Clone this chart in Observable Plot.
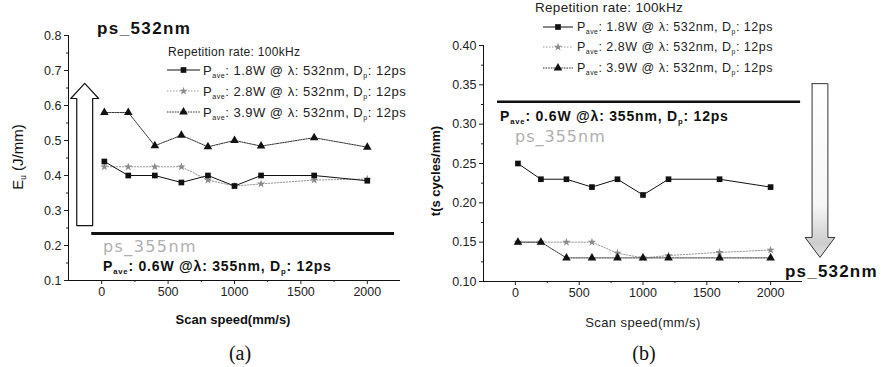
<!DOCTYPE html>
<html><head><meta charset="utf-8">
<script src="https://cdn.jsdelivr.net/npm/d3@7"></script>
<script src="https://cdn.jsdelivr.net/npm/@observablehq/plot@0.6"></script>
<style>
body{margin:0;background:#fff;}
#wrap{position:relative;width:883px;height:367px;overflow:hidden;font-family:"Liberation Sans",Arial,sans-serif;color:#1a1a1a;background:#fff;}
.t{position:absolute;white-space:nowrap;line-height:1;}
.pane{position:absolute;top:0;}
sub{font-size:0.55em;vertical-align:-0.45em;line-height:0;}
</style></head><body><div id="wrap"></div>
<script>
// ---------- data ----------
const scanSpeed = [20, 200, 400, 600, 800, 1000, 1200, 1600, 2000];
const seriesNames = ["1.8W", "2.8W", "3.9W"];
// (a) E_u (J/mm)
const energy18 = [0.44, 0.40, 0.40, 0.38, 0.40, 0.37, 0.40, 0.40, 0.385];
const energy28 = [0.425, 0.425, 0.425, 0.425, 0.387, 0.37, 0.376, 0.387, 0.39];
const energy39 = [0.58, 0.58, 0.485, 0.515, 0.482, 0.50, 0.484, 0.508, 0.481];
// (b) t (s cycles/mm)
const time18 = [0.25, 0.23, 0.23, 0.22, 0.23, 0.21, 0.23, 0.23, 0.22];
const time28 = [0.15, 0.15, 0.15, 0.15, 0.136, 0.13, 0.133, 0.137, 0.14];
const time39 = [0.15, 0.15, 0.13, 0.13, 0.13, 0.13, 0.13, 0.13, 0.13];
// ticks
const xTicks = [0, 500, 1000, 1500, 2000];
const xMinor = [250, 750, 1250, 1750];
const yTicksA = [0.1, 0.2, 0.3, 0.4, 0.5, 0.6, 0.7, 0.8];
const yMinorA = [0.15, 0.25, 0.35, 0.45, 0.55, 0.65, 0.75];
const yTicksB = [0.10, 0.15, 0.20, 0.25, 0.30, 0.35, 0.40];
const yMinorB = [0.125, 0.175, 0.225, 0.275, 0.325, 0.375];
// annotations (data coordinates)
const ref355A = {y: 0.234, x1: -75, x2: 2205};
const ref355B = {y: 0.3285, x1: -140, x2: 2235};
const arrowA = {x: -128, tail: 0.257, base: 0.62, tip: 0.663, shaft: 60, head: 105};
const arrowB = {x: 2387, tail: 0.3515, base: 0.156, tip: 0.1306, shaft: 62, head: 117};

// ---------- styles ----------
const sty = [
  {stroke: "#111", dash: null, symbol: "square", fill: "#111", r: 3.2},
  {stroke: "#9a9a9a", dash: "1.5,1.5", symbol: "star", fill: "#8a8a8a", r: 2.6},
  {stroke: "#333", dash: "1.6,1", symbol: "triangle", fill: "#111", r: 3.2}
];

function rows(vals){ return scanSpeed.map((x,i)=>({x, y: vals[i]})); }
function arrowPoly(a){
  return [
    {x: a.x - a.shaft, y: a.tail}, {x: a.x - a.shaft, y: a.base}, {x: a.x - a.head, y: a.base},
    {x: a.x, y: a.tip}, {x: a.x + a.head, y: a.base}, {x: a.x + a.shaft, y: a.base},
    {x: a.x + a.shaft, y: a.tail}, {x: a.x - a.shaft, y: a.tail}
  ];
}
function seriesMarks(list){
  const order = [1, 0, 2];
  const m = [];
  for (const i of order) {
    const d = rows(list[i]);
    m.push(Plot.line(d, {x: "x", y: "y", stroke: sty[i].stroke, strokeWidth: 1, strokeDasharray: sty[i].dash}));
    m.push(Plot.dot(d, {x: "x", y: "y", symbol: sty[i].symbol, r: sty[i].r, fill: sty[i].fill, stroke: "none"}));
  }
  return m;
}
function axes(yT, yM, fmt, ydom){
  return [
    Plot.ruleX([-250], {y1: ydom[0], y2: ydom[1], stroke: "#111", strokeWidth: 1}),
    Plot.ruleY([ydom[0]], {x1: -250, x2: 2250, stroke: "#111", strokeWidth: 1}),
    Plot.axisY(yT, {tickSize: 4, tickPadding: 3, tickFormat: d3.format(fmt), label: null}),
    Plot.axisY(yM, {tickSize: 2, tickFormat: () => "", label: null}),
    Plot.axisX(xTicks, {tickSize: 4, tickPadding: 3, tickFormat: d3.format("d"), label: null}),
    Plot.axisX(xMinor, {tickSize: 2, tickFormat: () => "", label: null})
  ];
}
const common = {
  x: {domain: [-250, 2250]},
  style: {fontFamily: "Liberation Sans, Arial, sans-serif", fontSize: "12.5px", color: "#222", background: "transparent", overflow: "visible"}
};

const plotA = Plot.plot({
  ...common, width: 440, height: 330,
  marginLeft: 68, marginRight: 40, marginTop: 35, marginBottom: 50,
  y: {domain: [0.1, 0.8]},
  marks: [
    ...axes(yTicksA, yMinorA, ".1f", [0.1, 0.8]),
    Plot.line(arrowPoly(arrowA), {x: "x", y: "y", fill: "white", stroke: "#111", strokeWidth: 1.2}),
    Plot.ruleY([ref355A.y], {x1: ref355A.x1, x2: ref355A.x2, stroke: "#111", strokeWidth: 3}),
    ...seriesMarks([energy18, energy28, energy39])
  ]
});

const plotB = Plot.plot({
  ...common, width: 443, height: 330,
  marginLeft: 43, marginRight: 81, marginTop: 45, marginBottom: 49,
  y: {domain: [0.1, 0.4]},
  marks: [
    () => {
      const defs = d3.create("svg:defs");
      const g = defs.append("linearGradient").attr("id", "arrowGrad").attr("x1", 0).attr("y1", 0).attr("x2", 0).attr("y2", 1);
      [[0, "#ffffff"], [0.7, "#f6f6f6"], [0.84, "#dcdcdc"], [0.92, "#cdcdcd"], [1, "#e2e2e2"]].forEach(([o, c]) =>
        g.append("stop").attr("offset", o).attr("stop-color", c));
      return defs.node();
    },
    ...axes(yTicksB, yMinorB, ".2f", [0.1, 0.4]),
    Plot.line(arrowPoly(arrowB), {x: "x", y: "y", fill: "url(#arrowGrad)", stroke: "#333", strokeWidth: 1}),
    Plot.ruleY([ref355B.y], {x1: ref355B.x1, x2: ref355B.x2, stroke: "#111", strokeWidth: 2.5}),
    ...seriesMarks([time18, time28, time39])
  ]
});

const wrap = document.getElementById("wrap");
const pa = document.createElement("div"); pa.className = "pane"; pa.style.left = "0px"; pa.appendChild(plotA); wrap.appendChild(pa);
const pb = document.createElement("div"); pb.className = "pane"; pb.style.left = "440px"; pb.appendChild(plotB); wrap.appendChild(pb);

// ---------- texts ----------
function addText(html, x, y, css, anchor){
  const d = document.createElement("div");
  d.className = "t"; d.innerHTML = html;
  d.style.cssText += css;
  d.style.left = x + "px"; d.style.top = y + "px";
  d.style.transform = anchor === "c" ? "translate(-50%,-50%)" : anchor === "r90" ? "translate(-50%,-50%) rotate(-90deg)" : "translate(0,-50%)";
  wrap.appendChild(d);
  return d;
}
function legendSample(i, x, y, w){
  const s = sty[i];
  const typ = {square: d3.symbolSquare, star: d3.symbolStar, triangle: d3.symbolTriangle}[s.symbol];
  const p = d3.symbol(typ, Math.PI * s.r * s.r)();
  const svg = `<svg width="${w}" height="12" style="overflow:visible"><line x1="0" x2="${w}" y1="6" y2="6" stroke="${s.stroke}" stroke-width="1" ${s.dash ? `stroke-dasharray="${s.dash}"` : ""}/><path transform="translate(${w/2},6)" d="${p}" fill="${s.fill}"/></svg>`;
  const d = document.createElement("div");
  d.style.cssText = `position:absolute;left:${x}px;top:${y-6}px;width:${w}px;height:12px;line-height:0`;
  d.innerHTML = svg; wrap.appendChild(d);
}
const legendText = n => `P<sub>ave</sub>: ${n} @ λ: 532nm, D<sub>p</sub>: 12ps`;
const refText = `P<sub>ave</sub>: 0.6W @λ: 355nm, D<sub>p</sub>: 12ps`;

// panel (a)
addText("ps_532nm", 97, 28, "font-weight:bold;font-size:17px;letter-spacing:1.4px;color:#111;");
addText("Repetition rate: 100kHz", 168, 52, "font-size:12px;letter-spacing:0.3px;color:#222;");
[70, 91, 112].forEach((y, i) => { legendSample(i, 167, y, 33); addText(legendText(seriesNames[i]), 203, y, "font-size:13px;letter-spacing:0.5px;color:#222;"); });
addText("ps_355nm", 103, 247, "font-family:'DejaVu Sans',sans-serif;font-size:16px;letter-spacing:1.4px;color:#b0b0b0;");
addText(refText, 103, 266, "font-weight:bold;font-size:14px;letter-spacing:0.8px;color:#111;");
addText("Scan speed(mm/s)", 233, 319, "font-weight:bold;font-size:13px;color:#111;", "c");
addText("(a)", 240, 353, "font-family:'Liberation Serif',serif;font-size:20px;color:#111;", "c");
addText("E<sub>u</sub> (J/mm)", 17, 157, "font-size:15px;color:#111;", "r90");

// panel (b)
addText("Repetition rate: 100kHz", 535, 8, "font-size:13.5px;letter-spacing:0.3px;color:#222;");
[27, 47, 68].forEach((y, i) => { legendSample(i, 543, y, 30); addText(legendText(seriesNames[i]), 577, y, "font-size:12.5px;letter-spacing:0.5px;color:#222;"); });
addText(refText, 500, 116, "font-weight:bold;font-size:14px;letter-spacing:0.8px;color:#111;");
addText("ps_355nm", 515, 137, "font-family:'DejaVu Sans',sans-serif;font-size:16px;letter-spacing:1px;color:#b0b0b0;");
addText("ps_532nm", 785, 271, "font-weight:bold;font-size:17px;letter-spacing:1.2px;color:#111;");
addText("Scan speed(mm/s)", 643, 322, "font-size:13px;letter-spacing:0.4px;color:#222;", "c");
addText("(b)", 644, 353, "font-family:'Liberation Serif',serif;font-size:20px;color:#111;", "c");
addText("t(s cycles/mm)", 435, 171, "font-weight:bold;font-size:13px;color:#111;", "r90");
</script></body></html>
